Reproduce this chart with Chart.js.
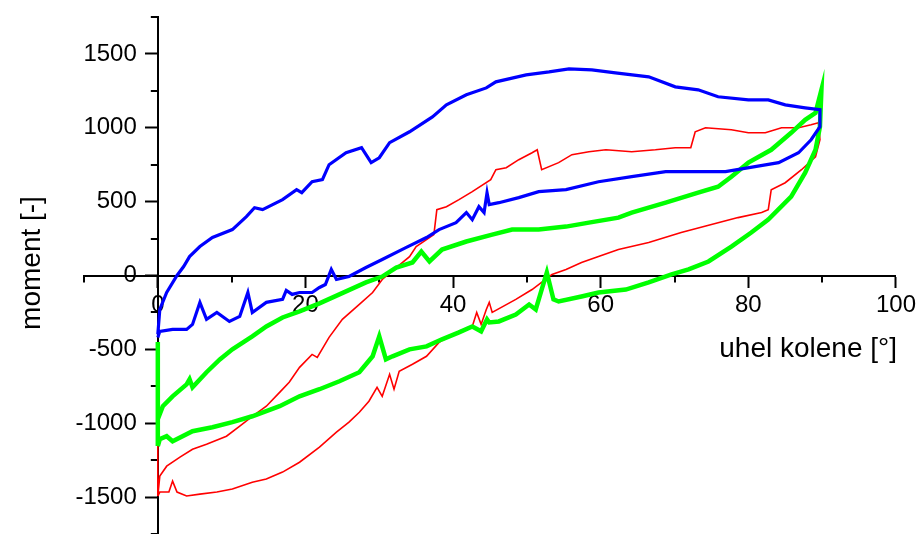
<!DOCTYPE html>
<html><head><meta charset="utf-8">
<script src="https://cdn.jsdelivr.net/npm/chart.js@4.4.1/dist/chart.umd.min.js"></script>
<style>html,body{margin:0;padding:0;background:#fff;}#wrap{width:920px;height:534px;position:relative;}</style>
</head><body><div id="wrap"><canvas id="c"></canvas></div>
<script>
// axis ticks
const xMajorTicks = [0, 20, 40, 60, 80, 100];
const xMinorTicks = [-10, 10, 30, 50, 70, 90];
const yMajorTicks = [-1500, -1000, -500, 0, 500, 1000, 1500];
const yMinorTicks = [-1750, -1250, -750, -250, 250, 750, 1250, 1750];
const xTitle = 'uhel kolene [°]';
const yTitle = 'moment [-]';

// series: [uhel kolene, moment]
const bluePoints = [[0,-399],[0.27,-230],[1.2,-115],[2.6,0],[3.5,61],[4.3,128],[5.7,196],[7.4,257],[10.1,311],[12.0,399],[13.1,459],[14.2,446],[16.9,514],[18.8,581],[19.5,561],[20.9,635],[22.3,649],[23.2,750],[25.5,831],[27.6,865],[28.9,764],[30.0,797],[31.4,899],[34.1,973],[37.2,1074],[39.1,1155],[41.8,1223],[44.5,1270],[45.8,1311],[49.9,1358],[53.0,1378],[55.7,1399],[58.8,1392],[62.0,1372],[66.5,1345],[70.1,1277],[73.2,1257],[75.9,1210],[80.0,1189],[82.7,1189],[85.0,1155],[87.7,1135],[89.7,1122],
  [89.7,1007],[88.5,919],[86.8,831],[84.1,764],[80.9,737],[76.9,703],[73.2,703],[68.8,703],[64.2,669],[59.7,635],[55.3,581],[51.6,568],[48.9,527],[46.2,493],[44.9,480],[44.6,561],[44.2,426],[43.5,466],[42.6,378],[41.8,426],[40.4,358],[38.1,311],[36.4,257],[33.6,189],[30.4,108],[28.2,54],[25.9,-7],[24.2,-27],[23.5,41],[22.7,-61],[21.9,-81],[20.9,-115],[19.2,-115],[18.2,-128],[17.4,-101],[16.9,-162],[14.7,-182],[12.8,-250],[12.2,-115],[11.1,-277],[9.7,-311],[8.0,-250],[6.6,-297],[5.7,-182],[4.7,-331],[3.9,-365],[2.0,-365],[0.27,-378],[0,-419]];

const redPoints = [[0,-1155],[0,-1493],[0.27,-1358],[1.2,-1291],[3.0,-1230],[4.7,-1176],[6.6,-1142],[9.3,-1088],[11.1,-1020],[12.8,-953],[14.7,-885],[16.5,-791],[17.8,-723],[19.2,-622],[20.9,-534],[21.6,-554],[23.2,-419],[25.0,-297],[27.3,-196],[29.1,-115],[30.4,-27],[32.3,54],[34.1,128],[35.0,196],[36.4,243],[37.4,277],[37.8,446],[39.1,466],[40.8,514],[42.6,568],[45.1,649],[45.8,716],[47.2,730],[48.9,784],[50.7,831],[51.4,851],[52.0,716],[54.3,764],[56.1,818],[58.4,838],[60.7,851],[64.2,838],[67.4,851],[70.1,865],[72.2,865],[72.8,973],[74.2,1000],[77.7,987],[80.0,966],[82.3,966],[84.5,1000],[86.8,1000],[88.5,1020],[89.5,1034],
  [89.7,919],[89.1,804],[87.2,716],[85.0,628],[83.1,581],[82.7,446],[81.8,426],[78.6,392],[75.0,345],[70.9,291],[66.5,223],[62.4,176],[59.7,128],[57.4,88],[55.3,41],[53.4,7],[50.7,-95],[48.5,-162],[45.3,-250],[44.9,-182],[44.5,-230],[43.8,-331],[43.2,-250],[42.6,-345],[40.8,-378],[38.1,-453],[36.4,-547],[34.5,-601],[32.7,-649],[32.0,-770],[31.4,-669],[30.4,-818],[29.7,-757],[28.6,-851],[27.3,-926],[25.9,-993],[24.2,-1061],[21.9,-1162],[19.2,-1264],[16.9,-1331],[14.7,-1378],[12.8,-1399],[10.1,-1446],[8.0,-1466],[5.7,-1480],[3.9,-1493],[2.6,-1466],[2.0,-1392],[1.5,-1466],[0.27,-1466],[0,-1493]];

const greenPoints = [[0,-450],[0,-1155],[0,-973],[0.68,-885],[2.0,-818],[3.9,-737],[4.3,-703],[4.7,-757],[6.6,-655],[8.4,-568],[10.1,-500],[12.8,-412],[14.7,-345],[16.9,-284],[19.2,-243],[21.9,-189],[24.6,-128],[28.2,-47],[30.4,-7],[32.3,54],[34.5,88],[35.7,162],[36.8,95],[38.5,176],[41.8,230],[45.3,277],[48.0,311],[51.6,311],[55.3,331],[58.4,358],[62.4,392],[64.2,426],[68.8,493],[73.2,561],[75.9,601],[77.7,669],[80.0,764],[83.1,851],[85.8,966],[87.7,1054],[89.1,1101],[89.9,1257],
  [89.7,1007],[89.1,851],[87.7,696],[85.8,534],[82.7,378],[80.4,291],[77.7,196],[74.6,95],[71.9,41],[69.6,7],[66.5,-47],[63.4,-95],[59.7,-115],[57.4,-142],[54.3,-176],[53.6,-162],[52.7,20],[52.0,-95],[51.2,-230],[50.3,-196],[48.5,-264],[46.2,-311],[44.9,-318],[44.6,-297],[43.8,-378],[42.6,-345],[40.8,-385],[38.5,-432],[36.4,-480],[34.1,-500],[31.8,-547],[30.9,-568],[30.0,-412],[29.1,-547],[27.3,-655],[24.6,-716],[21.9,-770],[19.2,-818],[16.5,-885],[12.8,-953],[10.1,-993],[7.4,-1027],[4.7,-1054],[2.0,-1122],[1.2,-1088],[0.27,-1108],[0,-1155]];

const FONT = "'Liberation Sans', Arial, sans-serif";
const toXY = pts => pts.map(p => ({x: p[0], y: p[1]}));

// linear scale whose labels sit beside the tick marks when the axis crosses at zero
class CrossLinear extends Chart.LinearScale {
  _computeLabelItems(chartArea) {
    const items = super._computeLabelItems(chartArea);
    if (!this.isHorizontal()) {
      const shift = this.options.grid.tickLength + this.options.ticks.padding;
      items.forEach(it => { it.options.translation[0] -= shift; });
    }
    return items;
  }
}
CrossLinear.id = 'crossLinear';
CrossLinear.defaults = Chart.LinearScale.defaults;
Chart.register(CrossLinear);

const decor = {
  id: 'decor',
  beforeDatasetsDraw(chart) {
    const {ctx, scales: {x, y}} = chart;
    const yAxisPx = x.getPixelForValue(0);
    const xAxisPx = y.getPixelForValue(0);
    ctx.save();
    ctx.strokeStyle = '#000';
    ctx.lineWidth = 2;
    ctx.beginPath();
    xMinorTicks.forEach(v => { const px = Math.round(x.getPixelForValue(v)); ctx.moveTo(px, xAxisPx); ctx.lineTo(px, xAxisPx + 7); });
    yMinorTicks.forEach(v => { const py = Math.round(y.getPixelForValue(v)); ctx.moveTo(yAxisPx, py); ctx.lineTo(yAxisPx - 7, py); });
    ctx.stroke();
    ctx.restore();
  },
  afterDraw(chart) {
    const {ctx} = chart;
    ctx.save();
    ctx.fillStyle = '#000';
    ctx.font = '28px ' + FONT;
    ctx.textAlign = 'right';
    ctx.textBaseline = 'alphabetic';
    ctx.fillText(xTitle, 897, 357);
    ctx.translate(40, 263);
    ctx.rotate(-Math.PI / 2);
    ctx.textAlign = 'center';
    ctx.fillText(yTitle, 0, 0);
    ctx.restore();
  }
};

const noPad = s => { s.paddingTop = 0; s.paddingBottom = 0; };

new Chart(document.getElementById('c'), {
  type: 'scatter',
  data: {
    datasets: [
      {data: toXY(bluePoints), borderColor: '#0000ff', borderWidth: 3.2, showLine: true, pointRadius: 0, tension: 0},
      {data: toXY(greenPoints), borderColor: '#00ff00', borderWidth: 4.5, showLine: true, pointRadius: 0, tension: 0},
      {data: toXY(redPoints), borderColor: '#ff0000', borderWidth: 1.6, showLine: true, pointRadius: 0, tension: 0}
    ]
  },
  options: {
    responsive: true,
    maintainAspectRatio: false,
    animation: false,
    events: [],
    layout: {padding: {left: 84, right: 22, top: 17, bottom: -1}},
    plugins: {legend: {display: false}, tooltip: {enabled: false}},
    scales: {
      x: {
        type: 'crossLinear', position: {y: 0}, min: -10, max: 100,
        afterBuildTicks: s => { s.ticks = xMajorTicks.map(v => ({value: v})); },
        afterFit: noPad,
        grid: {drawOnChartArea: false, drawTicks: true, tickLength: 11, tickWidth: 2, tickColor: '#000'},
        border: {display: true, color: '#000', width: 2},
        ticks: {color: '#000', font: {family: FONT, size: 24}, padding: 4, maxRotation: 0, autoSkip: false, callback: v => String(v)}
      },
      y: {
        type: 'crossLinear', position: {x: 0}, min: -1750, max: 1750,
        afterBuildTicks: s => { s.ticks = yMajorTicks.map(v => ({value: v})); },
        afterFit: noPad,
        grid: {drawOnChartArea: false, drawTicks: true, tickLength: 12, tickWidth: 2, tickColor: '#000'},
        border: {display: true, color: '#000', width: 2},
        ticks: {color: '#000', font: {family: FONT, size: 24}, padding: 9, autoSkip: false, callback: v => String(v)}
      }
    }
  },
  plugins: [decor]
});
</script></body></html>
